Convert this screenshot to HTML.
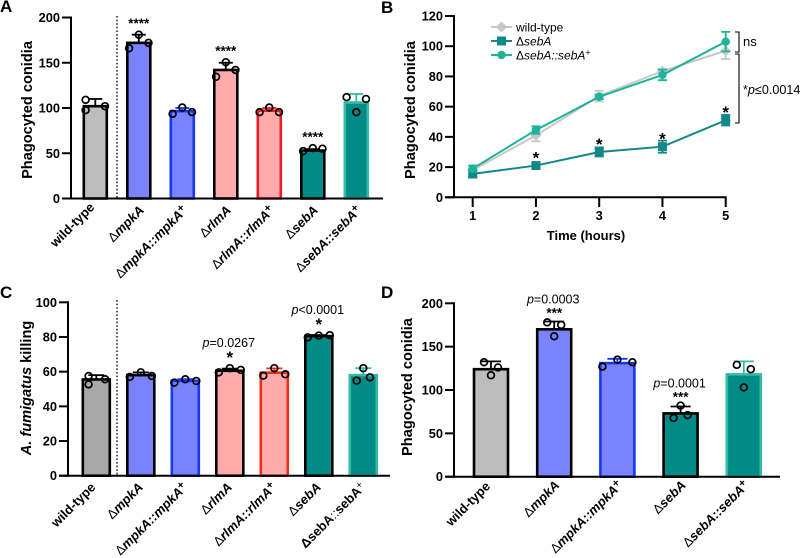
<!DOCTYPE html>
<html lang="en">
<head>
<meta charset="utf-8">
<title>Phagocytosis and killing of conidia</title>
<style>
html,body{margin:0;padding:0;background:#fff;}
svg{display:block;font-family:"Liberation Sans",sans-serif;}
text{fill:#000;}
</style>
</head>
<body>
<svg id="figure" width="800" height="558" viewBox="0 0 800 558" xmlns="http://www.w3.org/2000/svg">
  <rect width="800" height="558" fill="#fff"/>
  <text x="0" y="12" font-size="17" font-weight="700">A</text>
  <text x="381" y="13" font-size="17" font-weight="700">B</text>
  <text x="0" y="298" font-size="17" font-weight="700">C</text>
  <text x="381" y="298" font-size="17" font-weight="700">D</text>
  <g id="panel-a"></g>
  <g id="panel-b"></g>
  <g id="panel-c"></g>
  <g id="panel-d"></g>
</svg>
<script>
/* ---------- Panel A data ---------- */
const categoriesA = ["wild-type","Δ mpkA","Δ mpkA::mpkA+","Δ rlmA","Δ rlmA::rlmA+","Δ sebA","Δ sebA::sebA+"];
const replicatesA = [[109,97.6,102],[166,181,172],[93.5,100.5,95.5],[134.5,150.6,142],[95.5,100.5,95.5],[52.3,55.6,55],[112,95.4,110]];
const meansA = [102,172,96.5,142,97,53,106];
const errorsA = [8,9,3.5,8,3,1.5,9.5];
const starsA = ["","****","","****","","****",""];
const pValuesA = ["","","","","","",""];
const ticksA = [0,50,100,150,200];

/* ---------- Panel B data ---------- */
const hours = [1,2,3,4,5];
const wildTypeB = [18,41,67,83.5,97];
const sebAB = [15.5,21,30,33.5,51];
const complementB = [19,44.5,66.5,81,103];
const wildTypeErrB = [1,4,3.5,1.5,5.5];
const sebAErrB = [2.5,2,3,4,3.5];
const complementErrB = [2,2.5,1.5,3.5,6.5];
const ticksB = [0,20,40,60,80,100,120];

/* ---------- Panel C data ---------- */
const categoriesC = ["wild-type","Δ mpkA","Δ mpkA::mpkA+","Δ rlmA","Δ rlmA::rlmA+","Δ sebA","Δ sebA::sebA×"];
const replicatesC = [[57.5,52.7,55.6],[57,59.6,57.5],[53.7,55.6,54.6],[59.6,62,61],[57.7,62,58.5],[79.8,80.8,81],[54.8,62,56.7]];
const meansC = [55.5,58,54.7,60.5,59.4,80.5,58];
const errorsC = [2.5,1.6,1,1.2,2.5,.6,4];
const starsC = ["","","","*","","*",""];
const pValuesC = ["","","","=0.0267","","<0.0001",""];
const ticksC = [0,20,40,60,80,100];

/* ---------- Panel D data ---------- */
const categoriesD = ["wild-type","Δ mpkA","Δ mpkA::mpkA+","Δ sebA","Δ sebA::sebA+"];
const replicatesD = [[132,117,126],[178,162,175],[127,135,132],[67.7,82,71],[129,103,124]];
const meansD = [124,170,131,73,118];
const errorsD = [9,9,5,8,15];
const starsD = ["","***","","***",""];
const pValuesD = ["","=0.0003","","=0.0001",""];
const ticksD = [0,50,100,150,200];

/* ---------- Styling ---------- */
const BLUE="#7b82ff", PINK="#ffabab", TEAL="#008b87", GREY="#bdbdbd";
const fillsA=[GREY,BLUE,BLUE,PINK,PINK,TEAL,TEAL];
const edgesA=["#000","#000","#1638ee","#000","#ea1c24","#000","#35bba3"];
const fillsC=["#a8a8a8",BLUE,BLUE,PINK,PINK,TEAL,TEAL];
const edgesC=["#000","#000","#1638ee","#000","#f02c14","#000","#35bba3"];
const fillsD=[GREY,BLUE,BLUE,TEAL,TEAL];
const edgesD=["#000","#000","#1638ee","#000","#35bba3"];

const NS="http://www.w3.org/2000/svg";
function make(parent,tag,attrs,content){
  const el=document.createElementNS(NS,tag);
  for(const k in attrs) el.setAttribute(k,attrs[k]);
  if(content!==undefined) el.textContent=content;
  parent.appendChild(el);
  return el;
}
function scale(d0,d1,r0,r1){ return v=>r0+(v-d0)*(r1-r0)/(d1-d0); }

function genotypeLabel(t,name){
  if(name.charAt(0)!=="Δ"){ t.textContent=name; return; }
  const tail=name.slice(-1);
  const hasSup=(tail==="+"||tail==="×");
  const body=hasSup?name.slice(2,-1):name.slice(2);
  if(tail==="×"){
    /* this one label is set upright in the original, with thin separators */
    const parts=body.split("::");
    make(t,"tspan",{},"Δ"+parts[0]);
    make(t,"tspan",{"font-weight":"400"},"::");
    make(t,"tspan",{},parts[1]);
    make(t,"tspan",{dy:"-4","font-size":"10","font-weight":"400"},"+");
    return;
  }
  make(t,"tspan",{"font-weight":"400"},"Δ");
  make(t,"tspan",{"font-style":"italic"},body);
  if(hasSup) make(t,"tspan",{dy:"-4","font-size":"11"},tail);
}

function yAxis(g,y,ticks,x0,size){
  ticks.forEach(v=>{
    const tick=make(g,"line",{x1:x0-9,x2:x0,y1:y(v),y2:y(v),stroke:"#000","stroke-width":2});
    
    
    const lab=make(g,"text",{x:x0-11,y:y(v)+4.5,"text-anchor":"end","font-size":size,"font-weight":700},v);
    
    
  });
}

function drawBars(cfg){
  const g=document.getElementById(cfg.id);
  const y=scale(0,cfg.max,cfg.y0,cfg.yTop);
  cfg.cats.forEach((name,i)=>{
    const cx=cfg.x0+cfg.step*i;
    const top=y(cfg.means[i]);
    const bar=make(g,"rect",{x:cx-cfg.w/2,y:top,width:cfg.w,height:cfg.y0-top,fill:cfg.fills[i],stroke:cfg.edges[i],"stroke-width":2.6});
    
    
    const et=y(cfg.means[i]+cfg.errs[i]);
    const stem=make(g,"line",{x1:cx,x2:cx,y1:top,y2:et,stroke:cfg.edges[i],"stroke-width":1.8});
    
    
    const cap=make(g,"line",{x1:cx-cfg.cap,x2:cx+cfg.cap,y1:et,y2:et,stroke:cfg.edges[i],"stroke-width":1.8});
    
    
    const spread=(cfg.spreadOverride&&cfg.spreadOverride[i])||cfg.spread;
    const slots=(cfg.slotOverride&&cfg.slotOverride[i])||[-1,0,1];
    cfg.reps[i].forEach((v,j)=>{
      const dot=make(g,"circle",{cx:cx+slots[j]*spread,cy:y(v),r:3.4,fill:"none",stroke:"#000","stroke-width":1.7});
      
      
    });
    const peak=Math.max(cfg.means[i]+cfg.errs[i],...cfg.reps[i]);
    if(cfg.stars[i]){
      const star=make(g,"text",{x:cx,y:y(peak)-cfg.starGap,"text-anchor":"middle","font-size":cfg.stars[i]==="*"?17:13.5,"font-weight":700},cfg.stars[i]);
      
      
    }
    if(cfg.ps[i]){
      const p=make(g,"text",{x:cx-1,y:y(peak)-cfg.pGap,"text-anchor":"middle","font-size":12.5});
      
      
      make(p,"tspan",{"font-style":"italic"},"p");
      make(p,"tspan",{},cfg.ps[i]);
    }
    const plain=name.charAt(0)!=="Δ";
    const ax=cx+cfg.labelDx+(plain?cfg.plainDx:0), ay=cfg.labelY+(plain?cfg.plainDy:0);
    const lab=make(g,"text",{x:ax,y:ay,"text-anchor":"end","font-size":cfg.labelSize,"font-weight":700,transform:"rotate(-45 "+ax+" "+ay+")"});
    
    
    genotypeLabel(lab,name);
  });
  if(cfg.divider){
    const d=make(g,"line",{x1:cfg.divider,x2:cfg.divider,y1:cfg.dividerTop,y2:cfg.y0,stroke:"#000","stroke-width":1.3,"stroke-dasharray":"1.6 2"});
    
    
  }
  const yLine=make(g,"line",{x1:cfg.axisX,x2:cfg.axisX,y1:cfg.yTop-1,y2:cfg.y0+1,stroke:"#000","stroke-width":2});
  
  
  const xLine=make(g,"line",{x1:cfg.axisX-9,x2:cfg.axisEnd,y1:cfg.y0,y2:cfg.y0,stroke:"#000","stroke-width":2});
  
  
  yAxis(g,y,cfg.ticks,cfg.axisX,12.8);
  const bx=cfg.titleX, by=cfg.titleY;
  const title=make(g,"text",{x:bx,y:by,"text-anchor":"middle","font-size":14.6,"font-weight":700,transform:"rotate(-90 "+bx+" "+by+")"});
  
  
  if(cfg.italicTitle){
    make(title,"tspan",{"font-style":"italic"},cfg.italicTitle);
    make(title,"tspan",{},cfg.title);
  } else {
    title.textContent=cfg.title;
  }
}

drawBars({id:"panel-a",cats:categoriesA,reps:replicatesA,means:meansA,errs:errorsA,stars:starsA,ps:pValuesA,ticks:ticksA,
  fills:fillsA,edges:edgesA,max:200,y0:198.5,yTop:17.5,x0:95.3,step:43.5,w:23,cap:7,spread:9.7,starGap:6.5,pGap:24,
  slotOverride:{0:[-1,-1,1]},labelDx:6,labelY:211,plainDx:-6,plainDy:-3,labelSize:13,divider:117,dividerTop:16,
  axisX:71,axisEnd:383,title:"Phagocyted conidia",titleX:32,titleY:110});

drawBars({id:"panel-c",cats:categoriesC,reps:replicatesC,means:meansC,errs:errorsC,stars:starsC,ps:pValuesC,ticks:ticksC,
  fills:fillsC,edges:edgesC,max:100,y0:475.7,yTop:302.3,x0:96.3,step:44.5,w:27,cap:8,spread:11,starGap:5,pGap:21,
  slotOverride:{0:[-.7,-.7,.8],6:[-.6,0,.6]},labelDx:3,labelY:488,plainDx:-3,plainDy:0,labelSize:13,divider:117,dividerTop:300,
  axisX:68,axisEnd:390,italicTitle:"A. fumigatus",title:" killing",titleX:31,titleY:388});

drawBars({id:"panel-d",cats:categoriesD,reps:replicatesD,means:meansD,errs:errorsD,stars:starsD,ps:pValuesD,ticks:ticksD,
  fills:fillsD,edges:edgesD,max:200,y0:476.7,yTop:303.3,x0:491,step:63.2,w:34,cap:10,spread:7,starGap:4,pGap:18,
  spreadOverride:{2:15},labelDx:6,labelY:486,plainDx:-6,plainDy:1,labelSize:13,
  axisX:454,axisEnd:780,title:"Phagocyted conidia",titleX:412,titleY:387});

/* ---------- Panel B ---------- */
(function(){
  const g=document.getElementById("panel-b");
  const x=scale(1,5,472.7,725.7);
  const y=scale(0,120,197.3,16);
  const GRAY="#c8c8c8", DARK="#12888a", GREEN="#1fb39d";
  const series=[
    {name:"wild-type",vals:wildTypeB,errs:wildTypeErrB,color:GRAY,shape:"diamond"},
    {name:"sebA",vals:sebAB,errs:sebAErrB,color:DARK,shape:"square"},
    {name:"complement",vals:complementB,errs:complementErrB,color:GREEN,shape:"circle"}
  ];
  function marker(parent,shape,cx,cy,color){
    let m;
    if(shape==="square") m=make(parent,"rect",{x:cx-4.5,y:cy-4.5,width:9,height:9,fill:color});
    else if(shape==="circle") m=make(parent,"circle",{cx:cx,cy:cy,r:4.2,fill:color});
    else m=make(parent,"path",{d:"M"+cx+" "+(cy-5.5)+"L"+(cx+5.5)+" "+cy+"L"+cx+" "+(cy+5.5)+"L"+(cx-5.5)+" "+cy+"Z",fill:color});
    return m;
  }
  series.forEach(s=>{
    const sg=make(g,"g",{});
    
    
    s.vals.forEach((v,i)=>{
      const px=x(hours[i]), hi=y(v+s.errs[i]), lo=y(v-s.errs[i]);
      const eb=make(sg,"path",{d:"M"+(px-4.5)+" "+hi+"H"+(px+4.5)+"M"+px+" "+hi+"V"+lo+"M"+(px-4.5)+" "+lo+"H"+(px+4.5),fill:"none",stroke:s.color,"stroke-width":1.8});
      
      
    });
    const line=make(sg,"polyline",{points:s.vals.map((v,i)=>x(hours[i])+","+y(v)).join(" "),fill:"none",stroke:s.color,"stroke-width":2});
    
    
    s.vals.forEach((v,i)=>{
      const m=marker(sg,s.shape,x(hours[i]),y(v),s.color);
      
      
    });
  });
  sebAB.forEach((v,i)=>{
    if(i===0) return;
    const st=make(g,"text",{x:x(hours[i]),y:y(v)-2,"text-anchor":"middle","font-size":17,"font-weight":700},"*");
    
    
  });
  const yLine=make(g,"line",{x1:454,x2:454,y1:15,y2:198,stroke:"#000","stroke-width":2});
  
  
  const xLine=make(g,"line",{x1:445,x2:726.7,y1:197.3,y2:197.3,stroke:"#000","stroke-width":2});
  
  
  yAxis(g,y,ticksB,454,12.8);
  hours.forEach(h=>{
    const t=make(g,"line",{x1:x(h),x2:x(h),y1:197.3,y2:207,stroke:"#000","stroke-width":2});
    
    
    const l=make(g,"text",{x:x(h),y:220,"text-anchor":"middle","font-size":12.8,"font-weight":700},h);
    
    
  });
  const xt=make(g,"text",{x:586,y:240,"text-anchor":"middle","font-size":13,"font-weight":700},"Time (hours)");
  
  
  const yt=make(g,"text",{x:415,y:110,"text-anchor":"middle","font-size":14.6,"font-weight":700,transform:"rotate(-90 415 110)"},"Phagocyted conidia");
  
  

  /* legend */
  const legendRows=[["wild-type",27],["sebA",41],["complement",55]];
  legendRows.forEach((row,i)=>{
    const s=series[i], ly=row[1];
    const lg=make(g,"g",{});
    
    
    make(lg,"line",{x1:491,x2:512,y1:ly,y2:ly,stroke:s.color,"stroke-width":2});
    marker(lg,s.shape,501.5,ly,s.color);
    const t=make(lg,"text",{x:516,y:ly+4.3,"font-size":12});
    if(i===0) t.textContent="wild-type";
    else {
      make(t,"tspan",{},"Δ");
      make(t,"tspan",{"font-style":"italic"},i===1?"sebA":"sebA::sebA");
      if(i===2) make(t,"tspan",{dy:"-4","font-size":"9"},"+");
    }
  });

  /* brackets */
  const b1=make(g,"path",{d:"M735 32H739V52H735",fill:"none",stroke:"#000","stroke-width":1.1});
  
  
  const b2=make(g,"path",{d:"M735 54H739V123H735",fill:"none",stroke:"#000","stroke-width":1.1});
  
  
  const ns=make(g,"text",{x:743,y:46,"font-size":13},"ns");
  
  
  const pl=make(g,"text",{x:743,y:94,"font-size":12.6});
  
  
  make(pl,"tspan",{},"*");
  make(pl,"tspan",{"font-style":"italic"},"p");
  make(pl,"tspan",{},"≤0.0014");
})();
</script>
</body>
</html>
